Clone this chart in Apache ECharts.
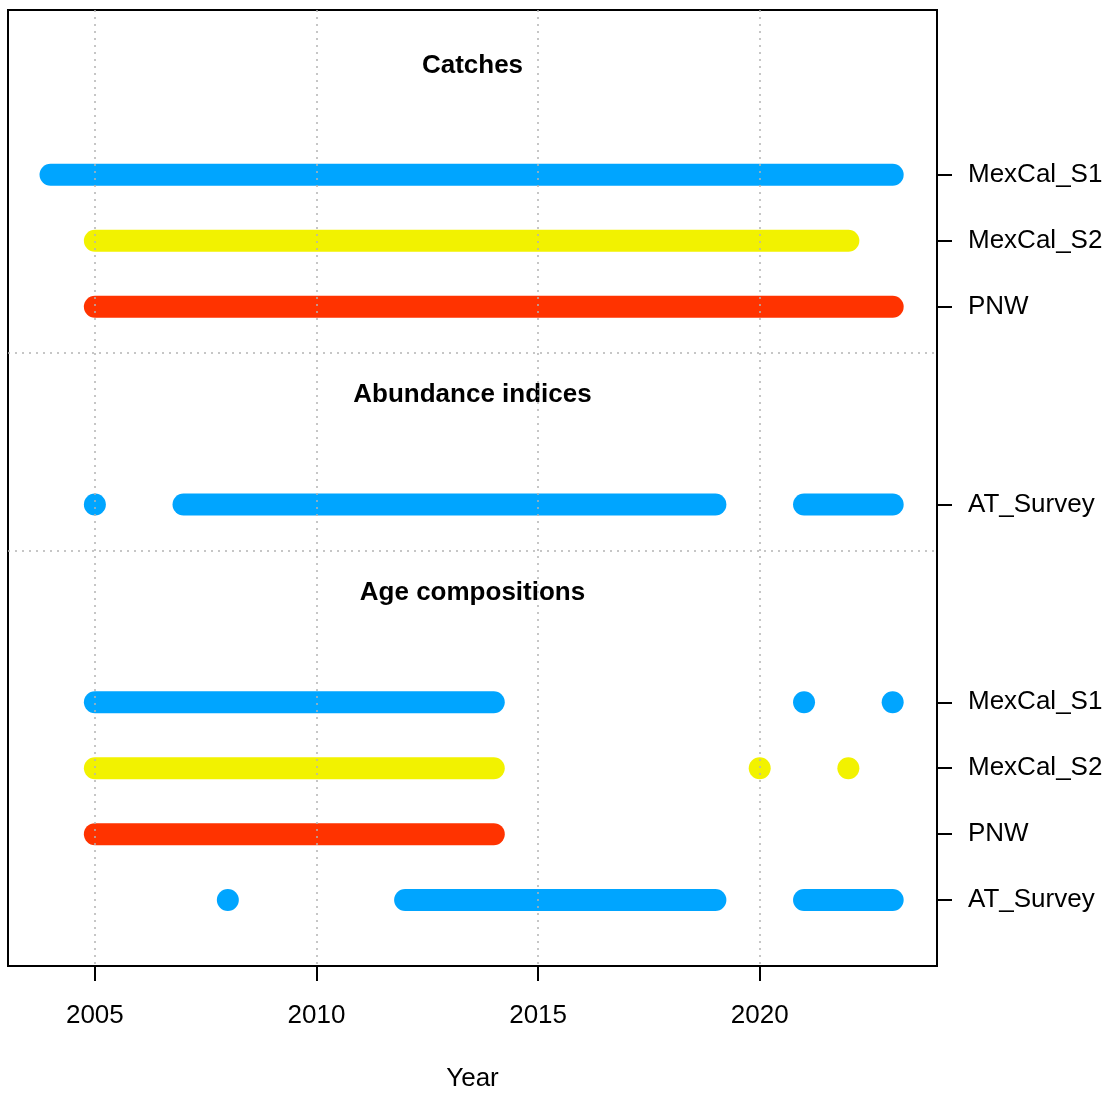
<!DOCTYPE html>
<html>
<head>
<meta charset="utf-8">
<script src="https://cdn.jsdelivr.net/npm/echarts@6/dist/echarts.min.js"></script>
<style>
html,body{margin:0;padding:0;background:#fff;}
#chart{width:1116px;height:1097px;}
</style>
</head>
<body>
<div id="chart"></div>
<script>
// ---- Data ----
const groupTitles = ['Catches', 'Abundance indices', 'Age compositions'];
const rowLabels = ['MexCal_S1', 'MexCal_S2', 'PNW', 'AT_Survey', 'MexCal_S1', 'MexCal_S2', 'PNW', 'AT_Survey'];
const rowGroups = [0, 0, 0, 1, 2, 2, 2, 2];
const rowColors = ['#00A5FF', '#F2F200', '#FF3300', '#00A5FF', '#00A5FF', '#F2F200', '#FF3300', '#00A5FF'];
// row positions (top-down axis units)
const rowPos = [3, 4, 5, 8, 11, 12, 13, 14];

const catch_MexCal_S1 = [2004,2005,2006,2007,2008,2009,2010,2011,2012,2013,2014,2015,2016,2017,2018,2019,2020,2021,2022,2023];
const catch_MexCal_S2 = [2005,2006,2007,2008,2009,2010,2011,2012,2013,2014,2015,2016,2017,2018,2019,2020,2021,2022];
const catch_PNW = [2005,2006,2007,2008,2009,2010,2011,2012,2013,2014,2015,2016,2017,2018,2019,2020,2021,2022,2023];
const index_AT_Survey = [2005,2007,2008,2009,2010,2011,2012,2013,2014,2015,2016,2017,2018,2019,2021,2022,2023];
const age_MexCal_S1 = [2005,2006,2007,2008,2009,2010,2011,2012,2013,2014,2021,2023];
const age_MexCal_S2 = [2005,2006,2007,2008,2009,2010,2011,2012,2013,2014,2020,2022];
const age_PNW = [2005,2006,2007,2008,2009,2010,2011,2012,2013,2014];
const age_AT_Survey = [2008,2012,2013,2014,2015,2016,2017,2018,2019,2021,2022,2023];
const rowYears = [catch_MexCal_S1, catch_MexCal_S2, catch_PNW, index_AT_Survey, age_MexCal_S1, age_MexCal_S2, age_PNW, age_AT_Survey];

const xTicks = [2005, 2010, 2015, 2020];
const xMin = 2003.04, xMax = 2024.0;
const yMin = 0.5, yMax = 15.0;

// ---- Build ----
const FONT = 'Liberation Sans, Arial, sans-serif';
const FS = 26;
const MARK = 22;
const series = [];

const titleData = [];
const sepData = [];
for (let g = 0; g < groupTitles.length; g++) {
  const rows = rowPos.filter((p, i) => rowGroups[i] === g);
  titleData.push({ value: [(xMin + xMax) / 2, rows[0] - 1.66], name: groupTitles[g] });
  if (g < groupTitles.length - 1) sepData.push({ yAxis: rows[rows.length - 1] + 0.7 });
}
series.push({
  type: 'scatter', z: 1, silent: true, symbolSize: 0,
  itemStyle: { opacity: 1 },
  data: titleData,
  label: { show: true, position: 'inside', formatter: p => p.name, color: '#000', opacity: 1,
           textBorderWidth: 0, fontFamily: FONT, fontWeight: 'bold', fontSize: FS },
  markLine: {
    silent: true, symbol: ['none', 'none'], label: { show: false },
    lineStyle: { color: '#B4B4B4', width: 1.5, type: [2, 5], opacity: 1 },
    data: xTicks.map(t => ({ xAxis: t })).concat(sepData)
  }
});

rowYears.forEach((yrs, i) => {
  const y = rowPos[i];
  let run = [yrs[0]];
  const runs = [];
  for (let k = 1; k < yrs.length; k++) {
    if (yrs[k] === yrs[k - 1] + 1) run.push(yrs[k]);
    else { runs.push(run); run = [yrs[k]]; }
  }
  runs.push(run);
  const singles = [];
  runs.forEach(r => {
    if (r.length > 1) {
      series.push({
        type: 'line', z: 3, silent: true, symbol: 'none',
        data: r.map(yr => [yr, y]),
        lineStyle: { color: rowColors[i], width: MARK, cap: 'round', join: 'round', opacity: 1 }
      });
    } else {
      singles.push([r[0], y]);
    }
  });
  if (singles.length) {
    series.push({
      type: 'scatter', z: 4, silent: true, symbol: 'circle', symbolSize: MARK,
      itemStyle: { color: rowColors[i], opacity: 1 },
      data: singles
    });
  }
});

const option = {
  animation: false,
  backgroundColor: '#fff',
  grid: { left: 8, right: 179, top: 10, bottom: 129, show: true, borderColor: '#000', borderWidth: 2, backgroundColor: 'transparent' },
  xAxis: {
    type: 'value', min: xMin, max: xMax,
    name: 'Year', nameLocation: 'middle', nameGap: 100,
    nameTextStyle: { fontFamily: FONT, fontSize: FS, color: '#000' },
    axisLine: { show: false },
    axisTick: { show: true, customValues: xTicks, length: 15, lineStyle: { color: '#000', width: 2 } },
    axisLabel: { show: true, customValues: xTicks, margin: 37, fontFamily: FONT, fontSize: FS, color: '#000',
                 formatter: v => String(v) },
    splitLine: { show: false }
  },
  yAxis: {
    type: 'value', inverse: true, min: yMin, max: yMax, position: 'right',
    axisLine: { show: false },
    axisTick: { show: true, customValues: rowPos, length: 15, lineStyle: { color: '#000', width: 2 } },
    axisLabel: { show: true, customValues: rowPos, margin: 31, fontFamily: FONT, fontSize: FS, color: '#000',
                 align: 'left', formatter: v => rowLabels[rowPos.indexOf(v)] },
    splitLine: { show: false }
  },
  series: series
};

const chart = echarts.init(document.getElementById('chart'), null, { renderer: 'canvas' });
chart.setOption(option);
</script>
</body>
</html>
